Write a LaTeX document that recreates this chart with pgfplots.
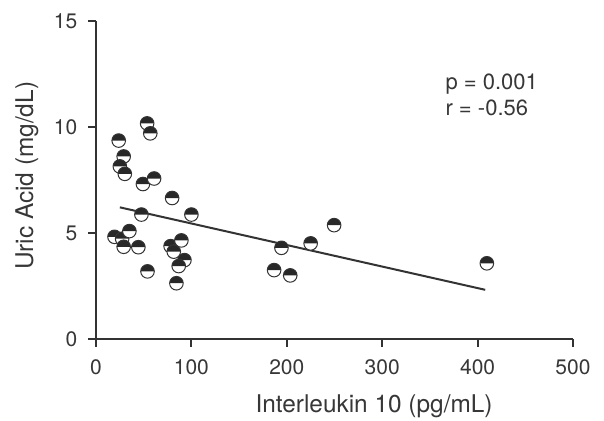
\documentclass[border=0pt]{standalone}
\usepackage{fontspec}
\setmainfont{TeX Gyre Heros}
\usepackage{pgfplots}
\pgfplotsset{compat=1.18}
\definecolor{axgray}{RGB}{51,51,51}
\definecolor{txgray}{RGB}{55,55,55}
\definecolor{markdark}{RGB}{40,40,40}

% circle with its upper half filled dark, lower half white
\pgfdeclareplotmark{halftop}{%
  \pgfpathcircle{\pgfpointorigin}{\pgfplotmarksize}
  \pgfsetfillcolor{white}
  \pgfusepathqfill
  \pgfpathmoveto{\pgfqpoint{\pgfplotmarksize}{0pt}}
  \pgfpatharc{0}{180}{\pgfplotmarksize}
  \pgfpathclose
  \pgfsetfillcolor{markdark}
  \pgfusepathqfill
  \pgfpathcircle{\pgfpointorigin}{\pgfplotmarksize}
  \pgfusepathqstroke
}

\begin{document}
\begin{tikzpicture}
\path[use as bounding box] (-48pt,-41pt) rectangle (254pt,169.5pt);
\begin{axis}[
  scale only axis,
  width=238.5pt, height=159pt,
  xmin=0, xmax=500, ymin=0, ymax=15,
  axis lines*=left,
  axis line style={axgray, line width=1pt},
  xtick={0,100,...,500}, ytick={0,5,10,15},
  tick align=outside,
  major tick length=3.8pt,
  tick style={axgray, line width=1pt},
  /pgf/number format/assume math mode=true,
  tick label style={font=\fontsize{10.5}{12}\selectfont, text=txgray},
  xticklabel style={yshift=-3pt},
  yticklabel style={xshift=-2pt},
  label style={font=\fontsize{12.2}{14}\selectfont, text=txgray},
  xlabel={Interleukin 10 (pg/mL)},
  ylabel={Uric Acid (mg/dL)},
  xlabel style={at={(axis description cs:0.583,-0.211)}, anchor=center},
  ylabel style={at={(axis description cs:-0.145,0.513)}, anchor=center},
  clip=false,
]
% regression line
\addplot[axgray, line width=1pt, no marks] coordinates {(25,6.21) (408,2.32)};

% patients
\addplot[only marks, mark=halftop, mark size=3.4pt,
         mark options={draw=axgray, line width=0.5pt}]
  coordinates {
  (19.4,4.82) (27.4,4.73) (29,4.35) (35,5.09) (44.4,4.33)
  (23.8,9.36) (29,8.61) (25,8.14) (30.2,7.79)
  (53.6,10.17) (56.9,9.70) (49.2,7.31) (60.9,7.57)
  (79.8,6.65) (47.6,5.87) (100,5.87) (54,3.19)
  (78.2,4.38) (81.5,4.12) (89.5,4.65) (92.7,3.72) (86.7,3.44) (84.3,2.63)
  (186.7,3.25) (194.4,4.30) (203.6,3.0) (225,4.51) (249.6,5.37)
  (409.7,3.57)
  };

\node[anchor=base west, text=txgray, font=\fontsize{11}{12}\selectfont, inner sep=0pt]
  at (axis cs:366,11.79) {p = 0.001};
\node[anchor=base west, text=txgray, font=\fontsize{11}{12}\selectfont, inner sep=0pt]
  at (axis cs:366,10.52) {r = -0.56};
\end{axis}
\end{tikzpicture}
\end{document}
